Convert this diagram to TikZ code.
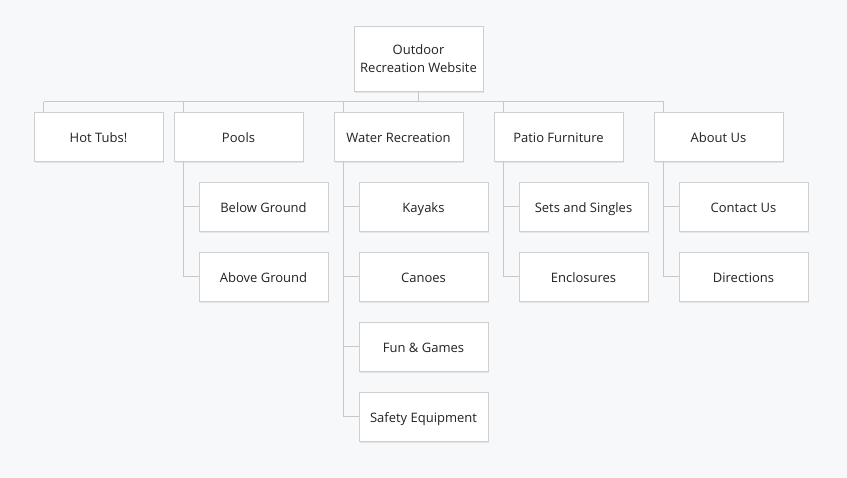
\documentclass[tikz,border=0pt]{standalone}
\usepackage{fontspec}
\setmainfont{Open Sans}
\definecolor{bg}{HTML}{F7F8FA}
\definecolor{boxline}{HTML}{CFCFCF}
\definecolor{conn}{HTML}{C8C8C8}
\definecolor{txt}{HTML}{222222}
\definecolor{shadowc}{HTML}{E4E5E8}
\begin{document}
\begin{tikzpicture}[x=1pt,y=-1pt,
  basebox/.style={draw=boxline,fill=white,line width=0.8pt,minimum width=129pt,minimum height=49pt,inner sep=0pt,
    font=\fontsize{13}{17.5}\selectfont,text=txt,align=center,
    preaction={fill=shadowc,transform canvas={xshift=1pt,yshift=-2pt}}},
  box/.style={basebox,text height=12pt,text depth=0.5pt},
  link/.style={draw=conn,line width=0.8pt}]
\fill[bg] (0,0) rectangle (847,478);
\useasboundingbox (0,0) rectangle (847,478);
% root
\node[basebox,minimum height=65pt,text depth=0pt] (root) at (418.5,58.5) {Outdoor\\Recreation Website};
% level 1
\node[box] (hot) at (98.5,136.5) {Hot Tubs!};
\node[box] (pools) at (238.5,136.5) {Pools};
\node[box] (water) at (398.5,136.5) {Water Recreation};
\node[box] (patio) at (558.5,136.5) {Patio Furniture};
\node[box] (about) at (718.5,136.5) {About Us};
% children
\node[box] (below) at (263.5,206.5) {Below Ground};
\node[box] (above) at (263.5,276.5) {Above Ground};
\node[box] (kayaks) at (423.5,206.5) {Kayaks};
\node[box] (canoes) at (423.5,276.5) {Canoes};
\node[box] (fun) at (423.5,346.5) {Fun \& Games};
\node[box] (safety) at (423.5,416.5) {Safety Equipment};
\node[box] (sets) at (583.5,206.5) {Sets and Singles};
\node[box] (encl) at (583.5,276.5) {Enclosures};
\node[box] (contact) at (743.5,206.5) {Contact Us};
\node[box] (dirs) at (743.5,276.5) {Directions};
% bus
\coordinate (bL) at ([xshift=10pt,yshift=10pt]hot.north west);
\coordinate (bR) at ([xshift=10pt,yshift=10pt]about.north west);
\draw[link] (root.south) -- (root.south |- bL);
\draw[link] (bL) -- (bR);
\foreach \n in {hot,pools,water,patio,about}{
  \draw[link] ([xshift=10pt,yshift=10pt]\n.north west) -- ([xshift=10pt]\n.north west);
}
% child connectors
\draw[link] ([xshift=10pt]pools.south west) |- (below.west);
\draw[link] ([xshift=10pt]pools.south west) |- (above.west);
\draw[link] ([xshift=10pt]water.south west) |- (kayaks.west);
\draw[link] ([xshift=10pt]water.south west) |- (canoes.west);
\draw[link] ([xshift=10pt]water.south west) |- (fun.west);
\draw[link] ([xshift=10pt]water.south west) |- (safety.west);
\draw[link] ([xshift=10pt]patio.south west) |- (sets.west);
\draw[link] ([xshift=10pt]patio.south west) |- (encl.west);
\draw[link] ([xshift=10pt]about.south west) |- (contact.west);
\draw[link] ([xshift=10pt]about.south west) |- (dirs.west);
\end{tikzpicture}
\end{document}
